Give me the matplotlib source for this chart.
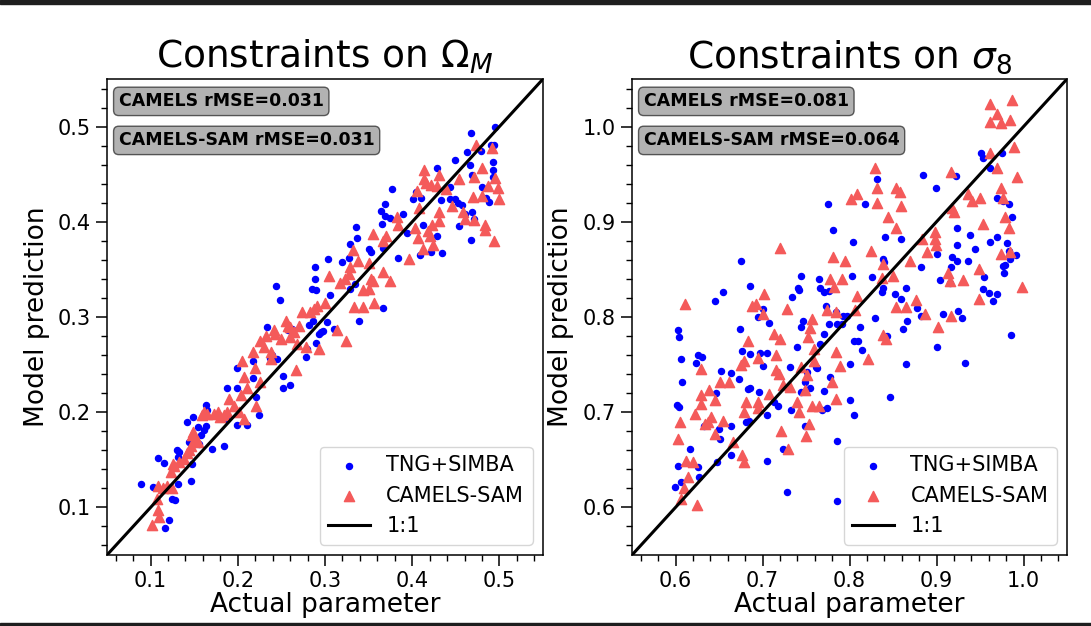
import matplotlib
matplotlib.use('Agg')
import matplotlib.pyplot as plt
from matplotlib.ticker import MultipleLocator
from matplotlib.patches import Rectangle

# ---------------- data (actual, predicted) ----------------
tng_omega = [
    (0.089, 0.125), (0.103, 0.121), (0.108, 0.152), (0.115, 0.147), (0.116, 0.078), (0.121, 0.087),
    (0.125, 0.109), (0.128, 0.108), (0.131, 0.125), (0.130, 0.160), (0.131, 0.153), (0.133, 0.158),
    (0.142, 0.190), (0.144, 0.169), (0.146, 0.128), (0.149, 0.195), (0.148, 0.146), (0.154, 0.184),
    (0.156, 0.167), (0.158, 0.176), (0.161, 0.181), (0.164, 0.208), (0.163, 0.186), (0.165, 0.202),
    (0.170, 0.161), (0.184, 0.164), (0.186, 0.193), (0.188, 0.225), (0.199, 0.225), (0.199, 0.246),
    (0.210, 0.187), (0.199, 0.187), (0.218, 0.254), (0.218, 0.236), (0.221, 0.216), (0.224, 0.197),
    (0.233, 0.289), (0.237, 0.257), (0.239, 0.260), (0.245, 0.256), (0.248, 0.318), (0.252, 0.238),
    (0.252, 0.225), (0.260, 0.229), (0.257, 0.286), (0.262, 0.287), (0.278, 0.258), (0.282, 0.292),
    (0.286, 0.296), (0.293, 0.282), (0.295, 0.284), (0.298, 0.285), (0.302, 0.295), (0.310, 0.287),
    (0.339, 0.296), (0.367, 0.309), (0.290, 0.273), (0.279, 0.266),
    (0.495, 0.500), (0.467, 0.493), (0.490, 0.481), (0.494, 0.481), (0.479, 0.474), (0.463, 0.473),
    (0.449, 0.465), (0.466, 0.460), (0.493, 0.463), (0.493, 0.454), (0.428, 0.457), (0.469, 0.449),
    (0.493, 0.447), (0.443, 0.437), (0.480, 0.437), (0.377, 0.434), (0.404, 0.431), (0.410, 0.425),
    (0.401, 0.424), (0.433, 0.423), (0.443, 0.424), (0.449, 0.424), (0.452, 0.420), (0.457, 0.418),
    (0.485, 0.425), (0.488, 0.421), (0.369, 0.419), (0.364, 0.411), (0.369, 0.406), (0.374, 0.404),
    (0.389, 0.408), (0.365, 0.398), (0.412, 0.397), (0.335, 0.395), (0.337, 0.383), (0.394, 0.388),
    (0.428, 0.385), (0.329, 0.377), (0.351, 0.371), (0.353, 0.368), (0.367, 0.372), (0.384, 0.362),
    (0.409, 0.365), (0.422, 0.368), (0.434, 0.367), (0.454, 0.396), (0.469, 0.410), (0.471, 0.403),
    (0.467, 0.381), (0.460, 0.408), (0.303, 0.361), (0.320, 0.358), (0.327, 0.362), (0.289, 0.352),
    (0.289, 0.340), (0.285, 0.329), (0.290, 0.328), (0.306, 0.323), (0.334, 0.335), (0.329, 0.329),
    (0.244, 0.333),
]

sam_omega = [
    (0.102, 0.081), (0.110, 0.090), (0.109, 0.097), (0.107, 0.109), (0.108, 0.122), (0.114, 0.120),
    (0.119, 0.123), (0.125, 0.120), (0.123, 0.137), (0.126, 0.146), (0.127, 0.143), (0.133, 0.148),
    (0.138, 0.151), (0.142, 0.157), (0.144, 0.160), (0.146, 0.165), (0.148, 0.176), (0.151, 0.172),
    (0.154, 0.169), (0.149, 0.179), (0.159, 0.197), (0.161, 0.200), (0.165, 0.198), (0.173, 0.198),
    (0.177, 0.200), (0.180, 0.195), (0.184, 0.197), (0.188, 0.200), (0.190, 0.214), (0.196, 0.207),
    (0.201, 0.200), (0.207, 0.193), (0.204, 0.218), (0.211, 0.225), (0.207, 0.237), (0.205, 0.254),
    (0.217, 0.263), (0.220, 0.246), (0.226, 0.232), (0.221, 0.207), (0.226, 0.275), (0.232, 0.280),
    (0.238, 0.263), (0.241, 0.286), (0.243, 0.282), (0.238, 0.256), (0.249, 0.277), (0.255, 0.296),
    (0.260, 0.289), (0.260, 0.279), (0.264, 0.284), (0.267, 0.244), (0.270, 0.291), (0.268, 0.272),
    (0.274, 0.305), (0.278, 0.268), (0.283, 0.305), (0.287, 0.308), (0.293, 0.266), (0.291, 0.312),
    (0.300, 0.315), (0.314, 0.286), (0.324, 0.275), (0.333, 0.310), (0.344, 0.310), (0.356, 0.315),
    (0.257, 0.291), (0.230, 0.268),
    (0.473, 0.481), (0.492, 0.478), (0.480, 0.457), (0.413, 0.454), (0.431, 0.449), (0.454, 0.445),
    (0.471, 0.447), (0.495, 0.446), (0.414, 0.445), (0.416, 0.441), (0.422, 0.439), (0.428, 0.438),
    (0.439, 0.434), (0.405, 0.432), (0.487, 0.438), (0.498, 0.436), (0.470, 0.426), (0.480, 0.427),
    (0.500, 0.424), (0.408, 0.415), (0.446, 0.417), (0.458, 0.410), (0.460, 0.403), (0.471, 0.402),
    (0.484, 0.397), (0.483, 0.391), (0.494, 0.380), (0.431, 0.410), (0.431, 0.401), (0.423, 0.397),
    (0.382, 0.405), (0.384, 0.397), (0.403, 0.394), (0.418, 0.390), (0.420, 0.385), (0.407, 0.383),
    (0.412, 0.371), (0.424, 0.376), (0.396, 0.361), (0.370, 0.385), (0.367, 0.380), (0.355, 0.387),
    (0.332, 0.370), (0.338, 0.359), (0.329, 0.352), (0.327, 0.345), (0.323, 0.340), (0.317, 0.336),
    (0.305, 0.343), (0.351, 0.357), (0.353, 0.340), (0.355, 0.338), (0.367, 0.347), (0.374, 0.338),
    (0.344, 0.328), (0.350, 0.329),
]

tng_sigma8 = [
    (0.675, 0.859), (0.686, 0.833), (0.655, 0.826), (0.645, 0.817), (0.603, 0.786), (0.604, 0.779),
    (0.606, 0.756), (0.626, 0.760), (0.631, 0.758), (0.624, 0.752), (0.608, 0.732), (0.602, 0.708),
    (0.604, 0.705), (0.646, 0.720), (0.652, 0.743), (0.664, 0.741), (0.673, 0.735), (0.674, 0.787),
    (0.676, 0.764), (0.686, 0.761), (0.697, 0.762), (0.701, 0.749), (0.705, 0.762), (0.700, 0.808),
    (0.695, 0.800), (0.707, 0.794), (0.686, 0.725), (0.683, 0.724), (0.696, 0.721), (0.681, 0.690),
    (0.685, 0.691), (0.633, 0.686), (0.650, 0.682), (0.651, 0.672), (0.664, 0.686), (0.664, 0.655),
    (0.617, 0.661), (0.603, 0.644), (0.626, 0.642), (0.627, 0.632), (0.606, 0.627), (0.599, 0.621),
    (0.648, 0.648), (0.705, 0.649), (0.705, 0.697), (0.713, 0.711), (0.718, 0.707), (0.724, 0.661),
    (0.728, 0.616), (0.732, 0.747), (0.733, 0.702), (0.740, 0.768), (0.744, 0.843), (0.741, 0.830),
    (0.742, 0.828), (0.734, 0.821), (0.747, 0.796), (0.744, 0.789), (0.765, 0.840), (0.766, 0.830),
    (0.771, 0.826), (0.776, 0.827), (0.773, 0.812), (0.776, 0.793), (0.771, 0.782), (0.766, 0.772),
    (0.761, 0.747), (0.763, 0.746), (0.749, 0.732), (0.751, 0.742), (0.755, 0.725), (0.744, 0.721),
    (0.749, 0.686), (0.771, 0.722), (0.768, 0.702), (0.774, 0.704), (0.778, 0.737), (0.786, 0.670),
    (0.786, 0.607), (0.793, 0.801), (0.797, 0.801), (0.791, 0.793), (0.803, 0.843), (0.812, 0.789),
    (0.805, 0.775), (0.810, 0.775), (0.814, 0.765), (0.800, 0.751), (0.800, 0.713), (0.805, 0.697),
    (0.785, 0.805), (0.786, 0.793),
    (0.832, 0.945), (0.884, 0.949), (0.899, 0.935), (0.922, 0.948), (0.951, 0.972), (0.953, 0.967),
    (0.975, 0.972), (0.962, 0.956), (0.969, 0.925), (0.977, 0.922), (0.983, 0.919), (0.987, 0.905),
    (0.775, 0.919), (0.818, 0.919), (0.781, 0.891), (0.804, 0.879), (0.841, 0.884), (0.859, 0.882),
    (0.924, 0.894), (0.939, 0.886), (0.924, 0.876), (0.944, 0.871), (0.962, 0.879), (0.970, 0.884),
    (0.981, 0.878), (0.983, 0.869), (0.991, 0.865), (0.979, 0.855), (0.985, 0.861), (0.976, 0.854),
    (0.978, 0.846), (0.901, 0.866), (0.918, 0.863), (0.923, 0.859), (0.936, 0.859), (0.917, 0.853),
    (0.882, 0.853), (0.838, 0.861), (0.840, 0.858), (0.826, 0.842), (0.904, 0.839), (0.915, 0.836),
    (0.955, 0.842), (0.954, 0.829), (0.960, 0.825), (0.970, 0.824), (0.965, 0.817), (0.865, 0.830),
    (0.859, 0.819), (0.852, 0.824), (0.838, 0.830), (0.837, 0.826), (0.878, 0.809), (0.882, 0.801),
    (0.908, 0.803), (0.925, 0.806), (0.929, 0.799), (0.829, 0.799), (0.861, 0.787), (0.866, 0.796),
    (0.901, 0.769), (0.933, 0.752), (0.865, 0.751), (0.986, 0.781), (0.843, 0.780), (0.846, 0.716),
]

sam_sigma8 = [
    (0.611, 0.814), (0.702, 0.824), (0.688, 0.812), (0.693, 0.814), (0.700, 0.803), (0.728, 0.808),
    (0.683, 0.775), (0.713, 0.782), (0.720, 0.777), (0.715, 0.760), (0.695, 0.757), (0.675, 0.750),
    (0.679, 0.754), (0.651, 0.732), (0.662, 0.732), (0.629, 0.745), (0.639, 0.723), (0.629, 0.718),
    (0.645, 0.713), (0.629, 0.709), (0.622, 0.698), (0.641, 0.695), (0.637, 0.690), (0.634, 0.688),
    (0.655, 0.691), (0.645, 0.677), (0.605, 0.690), (0.603, 0.672), (0.681, 0.711), (0.679, 0.700),
    (0.695, 0.711), (0.695, 0.704), (0.707, 0.719), (0.716, 0.744), (0.719, 0.740), (0.724, 0.729),
    (0.732, 0.726), (0.721, 0.680), (0.729, 0.661), (0.744, 0.748), (0.751, 0.739), (0.749, 0.723),
    (0.740, 0.711), (0.742, 0.700), (0.754, 0.688), (0.750, 0.675), (0.757, 0.798), (0.755, 0.788),
    (0.752, 0.779), (0.759, 0.766), (0.759, 0.754), (0.757, 0.707), (0.765, 0.707), (0.780, 0.732),
    (0.784, 0.763), (0.789, 0.749), (0.785, 0.714), (0.778, 0.840), (0.791, 0.840), (0.782, 0.831),
    (0.774, 0.807), (0.785, 0.805), (0.795, 0.859), (0.809, 0.822), (0.806, 0.807), (0.612, 0.649),
    (0.620, 0.648), (0.614, 0.632), (0.610, 0.620), (0.606, 0.609), (0.625, 0.602), (0.666, 0.669),
    (0.677, 0.655), (0.679, 0.648), (0.720, 0.872),
    (0.962, 1.024), (0.987, 1.028), (0.970, 1.013), (0.962, 1.005), (0.974, 1.004), (0.985, 1.007),
    (0.989, 0.979), (0.962, 0.972), (0.970, 0.956), (0.992, 0.947), (0.829, 0.957), (0.917, 0.952),
    (0.832, 0.936), (0.809, 0.929), (0.802, 0.924), (0.832, 0.920), (0.853, 0.936), (0.858, 0.931),
    (0.859, 0.917), (0.844, 0.905), (0.854, 0.893), (0.936, 0.929), (0.941, 0.922), (0.950, 0.925),
    (0.918, 0.915), (0.920, 0.910), (0.974, 0.936), (0.977, 0.925), (0.979, 0.905), (0.983, 0.894),
    (0.953, 0.898), (0.898, 0.889), (0.898, 0.882), (0.899, 0.876), (0.889, 0.868), (0.883, 0.882),
    (0.825, 0.869), (0.781, 0.863), (0.869, 0.859), (0.838, 0.856), (0.850, 0.843), (0.837, 0.841),
    (0.949, 0.850), (0.974, 0.866), (0.984, 0.868), (0.913, 0.846), (0.915, 0.838), (0.931, 0.839),
    (0.998, 0.832), (0.949, 0.819), (0.877, 0.818), (0.853, 0.810), (0.865, 0.810), (0.887, 0.803),
    (0.917, 0.801), (0.902, 0.789), (0.838, 0.781), (0.842, 0.777), (0.821, 0.756),
]

titles = [r'Constraints on $\Omega_M$', r'Constraints on $\sigma_8$']
axis_limits = [(0.05, 0.55), (0.55, 1.05)]
rmse_camels = ['0.031', '0.081']
rmse_sam = ['0.031', '0.064']
series = [(tng_omega, sam_omega), (tng_sigma8, sam_sigma8)]

RED = '#f45a5a'
BLUE = '#0000ff'

fig = plt.figure(figsize=(10.91, 6.26), dpi=100)
ax_rects = [[107 / 1091, 1 - 555 / 626, 436 / 1091, 476 / 626],
            [632 / 1091, 1 - 555 / 626, 435 / 1091, 476 / 626]]

for i in range(2):
    ax = fig.add_axes(ax_rects[i])
    tng, sam = series[i]
    tx, ty = zip(*tng)
    sx, sy = zip(*sam)
    lo, hi = axis_limits[i]
    ax.scatter(tx, ty, s=19, color=BLUE, label='TNG+SIMBA')
    ax.scatter(sx, sy, s=54, marker='^', color=RED, label='CAMELS-SAM')
    ax.plot([lo, hi], [lo, hi], color='black', lw=2.2, label='1:1')
    ax.set_xlim(lo, hi)
    ax.set_ylim(lo, hi)
    ax.xaxis.set_major_locator(MultipleLocator(0.1))
    ax.yaxis.set_major_locator(MultipleLocator(0.1))
    ax.xaxis.set_minor_locator(MultipleLocator(0.02))
    ax.yaxis.set_minor_locator(MultipleLocator(0.02))
    ax.tick_params(which='major', length=8, width=1.1, labelsize=15)
    ax.tick_params(which='minor', length=4.5, width=1.0)
    for sp in ax.spines.values():
        sp.set_linewidth(1.1)
    ax.set_title(titles[i], fontsize=27, pad=8)
    ax.set_xlabel('Actual parameter', fontsize=19, labelpad=1)
    ax.set_ylabel('Model prediction', fontsize=19, labelpad=6)
    box = dict(boxstyle='round', facecolor='grey', alpha=0.6)
    ax.text(0.027, 0.953, 'CAMELS rMSE=' + rmse_camels[i], transform=ax.transAxes,
            fontsize=12.5, fontweight='bold', va='center', ha='left', bbox=box)
    ax.text(0.027, 0.871, 'CAMELS-SAM rMSE=' + rmse_sam[i], transform=ax.transAxes,
            fontsize=12.5, fontweight='bold', va='center', ha='left', bbox=box)
    ax.legend(loc='lower right', fontsize=15)

# screenshot dark bands
fig.add_artist(Rectangle((0, 1 - 4 / 626), 1, 4 / 626, transform=fig.transFigure,
                         color='#1e1e1e', zorder=20))
fig.add_artist(Rectangle((0, 0), 1, 3 / 626, transform=fig.transFigure,
                         color='#1e1e1e', zorder=20))

fig.savefig('out.png', dpi=100)
